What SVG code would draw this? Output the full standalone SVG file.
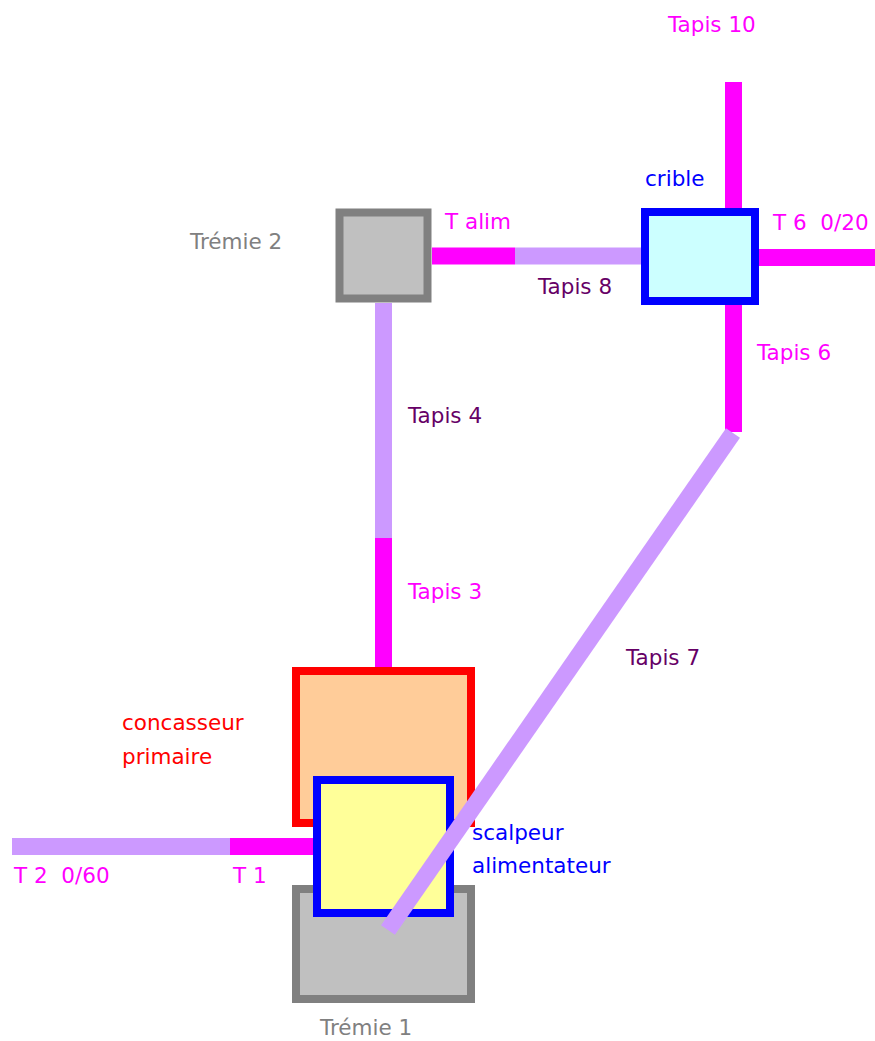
<svg xmlns="http://www.w3.org/2000/svg" width="875" height="1041" viewBox="0 0 875 1041">
<style>
text{font-family:"DejaVu Sans","Liberation Sans",sans-serif;font-size:21.5px;white-space:pre}
.mag{fill:#ff00ff}.pur{fill:#660066}.gry{fill:#808080}.blu{fill:#0000ff}.red{fill:#ff0000}
.bm{stroke:#ff00ff;stroke-width:17;fill:none}
.bl{stroke:#cc99ff;stroke-width:17;fill:none}
.hop{fill:#c0c0c0;stroke:#808080;stroke-width:8}
</style>
<rect width="875" height="1041" fill="#ffffff"/>
<g id="tremie2"><rect class="hop" x="339.5" y="212.5" width="88" height="86" stroke-width="9"/><text class="gry" x="190" y="249">Trémie 2</text></g>
<g id="crible"><rect x="645" y="212" width="110" height="89" fill="#ccffff" stroke="#0000ff" stroke-width="8"/><text class="blu" x="645" y="186">crible</text></g>
<g id="concasseur"><rect x="296" y="671" width="175" height="152" fill="#ffcc99" stroke="#ff0000" stroke-width="8"/><text class="red" x="122" y="730">concasseur</text><text class="red" x="122" y="764">primaire</text></g>
<g id="tremie1"><rect class="hop" x="296" y="889" width="175" height="110"/><text class="gry" x="320" y="1035">Trémie 1</text></g>
<g id="scalpeur"><rect x="317" y="780" width="133" height="133" fill="#ffff99" stroke="#0000ff" stroke-width="8"/><text class="blu" x="472" y="840">scalpeur</text><text class="blu" x="472" y="873">alimentateur</text></g>
<g id="connectors">
<line class="bm" x1="432" y1="256" x2="515" y2="256"/>
<line class="bl" x1="515" y1="256" x2="641" y2="256"/>
<line class="bm" x1="733.5" y1="82" x2="733.5" y2="208"/>
<line class="bm" x1="759" y1="257.5" x2="875" y2="257.5"/>
<line class="bm" x1="733.5" y1="305" x2="733.5" y2="432"/>
<line class="bl" x1="383.5" y1="303" x2="383.5" y2="538"/>
<line class="bm" x1="383.5" y1="538" x2="383.5" y2="667"/>
<line class="bl" x1="12" y1="846.5" x2="230" y2="846.5"/>
<line class="bm" x1="230" y1="846.5" x2="313" y2="846.5"/>
<line class="bl" x1="733" y1="433" x2="388" y2="930"/>
</g>
<g id="labels">
<text class="mag" x="668" y="32">Tapis 10</text>
<text class="mag" x="445" y="229">T alim</text>
<text class="mag" x="773" y="230" xml:space="preserve">T 6  0/20</text>
<text class="pur" x="538" y="294">Tapis 8</text>
<text class="mag" x="757" y="360">Tapis 6</text>
<text class="pur" x="408" y="423">Tapis 4</text>
<text class="mag" x="408" y="599">Tapis 3</text>
<text class="pur" x="626" y="665">Tapis 7</text>
<text class="mag" x="14" y="883" xml:space="preserve">T 2  0/60</text>
<text class="mag" x="233" y="883">T 1</text>
</g>
</svg>
